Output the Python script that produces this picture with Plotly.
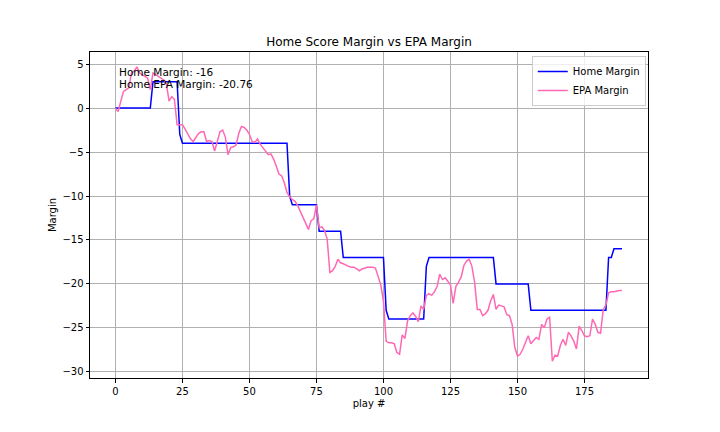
import plotly.graph_objects as go

plays = list(range(190))

home_margin = ([0] * 14 + [3] * 10 + [-3] + [-4] * 40 + [-10] + [-11] * 10 + [-14] * 9
               + [-17] * 16 + [-23] + [-24] * 14 + [-18] + [-17] * 25 + [-20] * 13
               + [-23] * 29 + [-17] * 2 + [-16] * 4)

epa_margin = [
    0.0, -0.4, 0.8, 1.9, 2.1, 2.3, 4.0, 4.2, 4.7, 4.0,
    3.8, 3.6, 3.4, 2.1, 4.0, 3.8, 3.6, 3.4, 3.2, 2.8,
    0.8, 1.3, 1.0, -1.9, -1.9, -1.9, -2.4, -3.0, -3.5, -3.8,
    -3.4, -2.9, -2.7, -2.7, -3.8, -3.7, -3.8, -4.9, -3.8, -2.7,
    -2.5, -3.3, -5.3, -4.5, -4.4, -4.2, -2.9, -2.1, -2.2, -2.5,
    -3.0, -3.8, -3.9, -3.5, -4.1, -4.5, -4.9, -5.3, -5.2, -5.8,
    -6.6, -7.5, -7.7, -8.5, -9.6, -10.1, -10.4, -10.6, -11.1, -11.8,
    -12.5, -13.3, -13.8, -12.8, -12.6, -11.0, -13.6, -13.5, -13.9, -14.9,
    -18.7, -18.5, -18.0, -17.2, -17.6, -17.7, -17.9, -18.0, -18.1, -18.1,
    -18.3, -18.5, -18.3, -18.2, -18.1, -18.1, -18.1, -18.2, -19.1, -20.1,
    -22.0, -26.5, -26.7, -26.7, -26.8, -27.8, -28.0, -25.8, -26.2, -24.2,
    -23.6, -23.3, -23.7, -24.3, -22.5, -22.9, -21.3, -21.1, -21.3, -20.9,
    -20.3, -18.9, -19.5, -19.3, -19.7, -20.1, -22.2, -20.3, -19.8, -19.2,
    -17.9, -17.4, -17.2, -18.0, -19.8, -22.9, -22.9, -23.6, -23.4, -23.0,
    -21.9, -21.2, -22.9, -22.4, -22.5, -22.6, -23.5, -23.6, -24.6, -27.2,
    -28.2, -28.0, -27.4, -26.6, -25.9, -26.8, -26.5, -26.1, -26.3, -24.6,
    -25.0, -24.0, -23.8, -28.8, -28.1, -28.2, -27.0, -26.3, -27.0, -25.5,
    -25.9, -26.5, -27.4, -24.8, -25.3, -25.9, -26.0, -25.9, -24.0, -24.6,
    -25.5, -25.6, -22.9, -22.4, -21.0, -20.9, -20.9, -20.8, -20.76, -20.76,
]

x_ticks = [0, 25, 50, 75, 100, 125, 150, 175]
y_ticks = [5, 0, -5, -10, -15, -20, -25, -30]

final_home = -16
final_epa = -20.76

FONT = "DejaVu Sans"

fig = go.Figure()
fig.add_trace(go.Scatter(x=plays, y=home_margin, mode="lines", name="Home Margin",
                         line=dict(color="#0000ff", width=1.5)))
fig.add_trace(go.Scatter(x=plays, y=epa_margin, mode="lines", name="EPA Margin",
                         line=dict(color="#ff69b4", width=1.5)))

fig.add_annotation(x=1, y=4.1, xref="x", yref="y", xanchor="left", yanchor="middle",
                   text=f"Home Margin: {final_home}", showarrow=False, borderpad=0,
                   font=dict(family=FONT, size=10.5, color="black"))
fig.add_annotation(x=1, y=2.7, xref="x", yref="y", xanchor="left", yanchor="middle",
                   text=f"Home EPA Margin: {final_epa}", showarrow=False, borderpad=0,
                   font=dict(family=FONT, size=10.5, color="black"))

axis_common = dict(showline=True, linecolor="black", linewidth=1, mirror=True,
                   ticks="outside", ticklen=3.5, tickcolor="black",
                   showgrid=True, gridcolor="#b0b0b0", gridwidth=0.8, zeroline=False,
                   tickfont=dict(family=FONT, size=10, color="black"))

# page body adds an 8px offset; margins compensate so the plot area sits at
# x 90..648, y 52..378 of the window
fig.update_layout(
    width=720, height=432,
    margin=dict(l=82, r=80, t=44, b=62),
    paper_bgcolor="white", plot_bgcolor="white",
    title=dict(text="Home Score Margin vs EPA Margin", xref="paper", x=0.5, xanchor="center",
               y=1 - 34 / 432, yanchor="middle",
               font=dict(family=FONT, size=12, color="black")),
    xaxis=dict(range=[-9.5, 198.7], tickvals=x_ticks,
               title=dict(text="play #", font=dict(family=FONT, size=10, color="black"), standoff=4),
               **axis_common),
    yaxis=dict(range=[-30.7, 6.38], tickvals=y_ticks,
               title=dict(text="Margin", font=dict(family=FONT, size=10, color="black"), standoff=3),
               **axis_common),
    legend=dict(x=0.996, y=0.988, xanchor="right", yanchor="top",
                bgcolor="rgba(255,255,255,0.8)", bordercolor="#cccccc", borderwidth=1,
                font=dict(family=FONT, size=10, color="black"), tracegroupgap=0,
                itemwidth=30),
    showlegend=True,
)

fig.write_html("out.html")
